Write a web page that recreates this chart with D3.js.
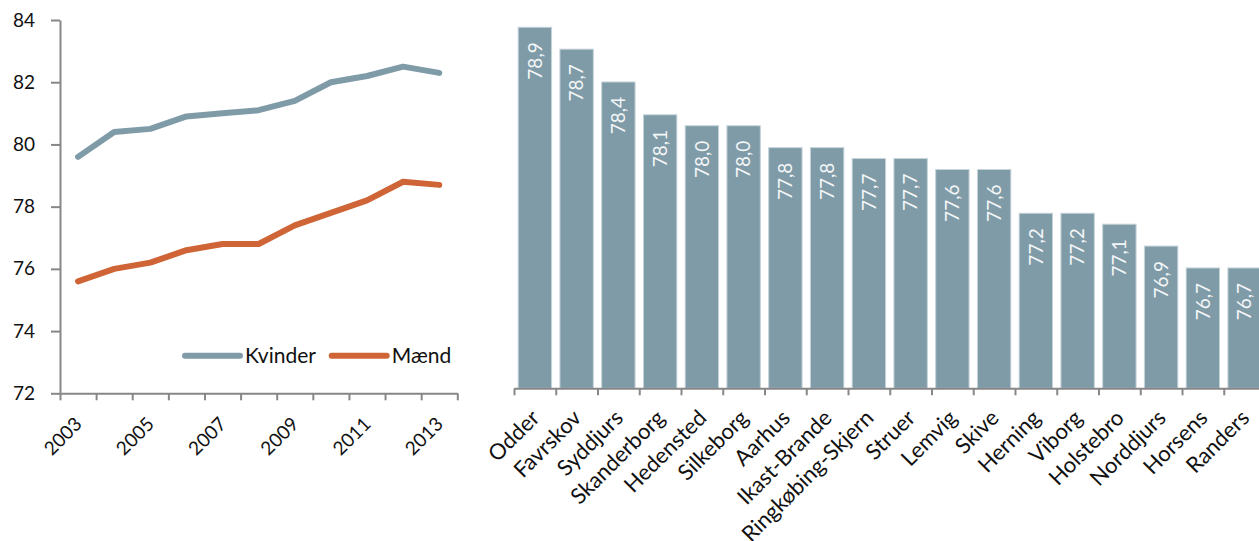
<!DOCTYPE html>
<html>
<head>
<meta charset="utf-8">
<script src="https://cdn.jsdelivr.net/npm/d3@7"></script>
<style>
  body { margin: 0; background: #fff; }
  text { font-family: Lato, "Open Sans", sans-serif; fill: #111; }
  .axis path, .axis line { stroke: #878787; stroke-width: 2; }
</style>
</head>
<body>
<div id="chart"></div>
<script>
// middellevetid, line chart
let years = ["2003", "2004", "2005", "2006", "2007", "2008", "2009", "2010", "2011", "2012", "2013"];
let kvinder = [79.6, 80.4, 80.5, 80.9, 81.0, 81.1, 81.4, 82.0, 82.2, 82.5, 82.3];
let maend = [75.6, 76.0, 76.2, 76.6, 76.8, 76.8, 77.4, 77.8, 78.2, 78.8, 78.7];
let yTicks = [72, 74, 76, 78, 80, 82, 84];

// bar chart, kommuner
let kommuner = ["Odder", "Favrskov", "Syddjurs", "Skanderborg", "Hedensted", "Silkeborg", "Aarhus", "Ikast-Brande",
    "Ringkøbing-Skjern", "Struer", "Lemvig", "Skive", "Herning", "Viborg", "Holstebro", "Norddjurs", "Horsens", "Randers"];
let levetid = [78.9, 78.7, 78.4, 78.1, 78.0, 78.0, 77.8, 77.8, 77.7, 77.7, 77.6, 77.6, 77.2, 77.2, 77.1, 76.9, 76.7, 76.7];

let blue = "#7f9ba8";
let orange = "#cf6536";

let svg = d3.select('#chart')
    .append('svg')
    .attr("width", 1259)
    .attr("height", 541);

drawLines();
drawBars();

function drawLines() {
    let left = 60, right = 457.3, top = 20, bottom = 393.3;

    let x = d3.scaleBand().domain(years).range([left, right]);
    let xEdge = d3.scaleLinear().domain([0, years.length]).range([left, right]);
    let y = d3.scaleLinear().domain([72, 84]).range([bottom, top]);

    svg.append("g")
        .attr("class", "axis")
        .attr("transform", "translate(" + left + ",0)")
        .call(d3.axisLeft(y).tickValues(yTicks).tickSize(9).tickSizeOuter(0).tickPadding(16))
        .call(g => g.selectAll("text").style("font-size", "19px").attr("fill", "#111"));

    // tick marks between the years
    svg.append("g")
        .attr("class", "axis")
        .attr("transform", "translate(0," + bottom + ")")
        .call(d3.axisBottom(xEdge).tickValues(d3.range(years.length + 1)).tickFormat("").tickSize(7).tickSizeOuter(0));

    // year labels, every other
    let lab = svg.append("g")
        .attr("transform", "translate(0," + bottom + ")")
        .call(d3.axisBottom(x).tickValues(years.filter((d, i) => i % 2 == 0)).tickSize(0));
    lab.select(".domain").remove();
    lab.selectAll("text")
        .style("font-size", "19px")
        .attr("fill", "#111")
        .attr("text-anchor", "end")
        .attr("dy", 0)
        .attr("y", 0)
        .attr("transform", "translate(5,32) rotate(-45)");

    let line = d3.line()
        .x((d, i) => x(years[i]) + x.bandwidth() / 2)
        .y(d => y(d));

    let series = [{ name: "Kvinder", values: kvinder, color: blue },
                  { name: "Mænd", values: maend, color: orange }];

    svg.selectAll("path.serie")
        .data(series)
        .enter()
        .append("path")
        .attr("class", "serie")
        .attr("d", d => line(d.values))
        .attr("fill", "none")
        .attr("stroke", d => d.color)
        .attr("stroke-width", 6)
        .attr("stroke-linecap", "round")
        .attr("stroke-linejoin", "round");

    // legend
    let legX = [185, 331.7];
    let leg = svg.selectAll("g.legend")
        .data(series)
        .enter()
        .append("g")
        .attr("class", "legend")
        .attr("transform", (d, i) => "translate(" + legX[i] + ",355.7)");
    leg.append("line")
        .attr("x1", 0).attr("x2", 55)
        .attr("stroke", d => d.color)
        .attr("stroke-width", 6)
        .attr("stroke-linecap", "round");
    leg.append("text")
        .attr("x", 60)
        .attr("dy", "0.35em")
        .style("font-size", "21px")
        .text(d => d.name);
}

function drawBars() {
    let left = 514, right = 514 + 41.75 * kommuner.length, bottom = 388.3;

    let x = d3.scaleBand().domain(kommuner).range([left, right]).paddingInner(0.2).paddingOuter(0.1);
    let xEdge = d3.scaleLinear().domain([0, kommuner.length]).range([left, right]);
    let y = d3.scaleLinear().domain([75.6, 79.0]).range([bottom, bottom - 3.4 * 109.4]);

    svg.append("g")
        .selectAll("rect")
        .data(levetid)
        .enter()
        .append("rect")
        .attr("x", (d, i) => x(kommuner[i]))
        .attr("y", d => y(d))
        .attr("width", x.bandwidth())
        .attr("height", d => bottom - y(d))
        .attr("fill", blue)
        .attr("stroke", "#c6d3d9")
        .attr("stroke-width", 1);

    let fmt = d3.format(".1f");
    svg.append("g")
        .selectAll("text")
        .data(levetid)
        .enter()
        .append("text")
        .attr("transform", (d, i) => "translate(" + (x(kommuner[i]) + x.bandwidth() / 2) + "," + (y(d) + 15) + ") rotate(-90)")
        .attr("text-anchor", "end")
        .attr("dy", "0.36em")
        .style("font-size", "19px")
        .style("fill", "#f4f6f7")
        .text(d => fmt(d).replace(".", ","));

    svg.append("g")
        .attr("class", "axis")
        .attr("transform", "translate(0," + bottom + ")")
        .call(d3.axisBottom(xEdge).tickValues(d3.range(kommuner.length + 1)).tickFormat("").tickSize(7).tickSizeOuter(0));

    let lab = svg.append("g")
        .attr("transform", "translate(0," + bottom + ")")
        .call(d3.axisBottom(x).tickSize(0));
    lab.select(".domain").remove();
    lab.selectAll("text")
        .style("font-size", "22px")
        .attr("fill", "#111")
        .attr("text-anchor", "end")
        .attr("dy", 0)
        .attr("y", 0)
        .attr("transform", "translate(6,31) rotate(-45)");
}
</script>
</body>
</html>
